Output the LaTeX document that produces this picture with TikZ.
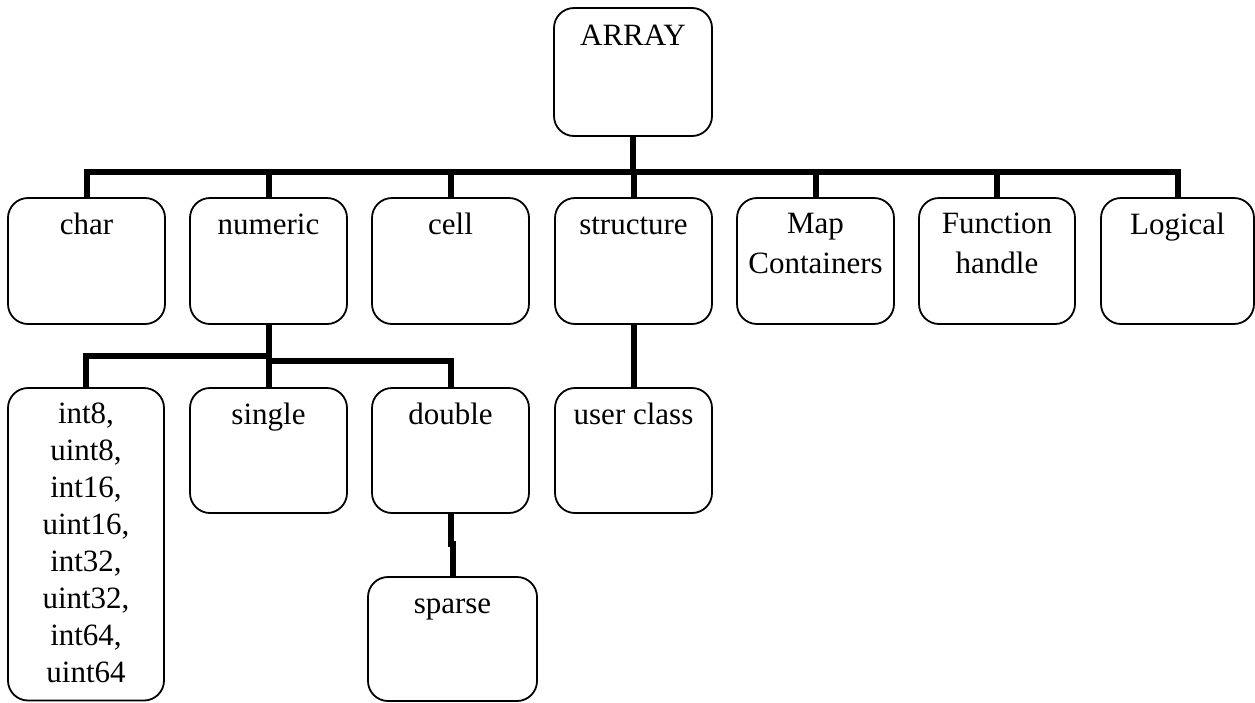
\documentclass[tikz,border=0pt]{standalone}
\usepackage{fontspec}
\setmainfont{Liberation Serif}
% A labelled rounded box given by its left, top, right and bottom edges;
% #6 is the drop from the top edge to the baseline of the label's last line.
\newcommand\dtypebox[7]{%
  \node[box, minimum width={(#4-#2)*1pt}, minimum height={(#5-#3)*1pt}]
    (#1) at ({(#2+#4)/2},{(#3+#5)/2}) {};
  \node[lbl] (#1-t) at ([yshift=-#6pt]#1.north) {#7};
}
\begin{document}
\begin{tikzpicture}[x=1pt,y=-1pt,
  box/.style={draw, line width=1.8pt, rounded corners=20pt, inner sep=0pt},
  lbl/.style={inner sep=0pt, anchor=base, align=center,
    font=\fontsize{31}{37}\selectfont},
  conn/.style={line width=6pt}]
\useasboundingbox (0,0) rectangle (1255,702);

% root
\dtypebox{array}{554}{8}{712}{136}{38}{ARRAY}

% first level
\dtypebox{char}{8}{198}{165}{324}{37}{char}
\dtypebox{numeric}{190}{198}{347}{324}{37}{numeric}
\dtypebox{cell}{372}{198}{529}{324}{37}{cell}
\dtypebox{structure}{555}{198}{712}{324}{37}{structure}
\dtypebox{map}{737}{198}{894}{324}{76}{Map\\[3pt]Containers}
\dtypebox{func}{919}{198}{1075}{324}{76}{Function\\[3pt]handle}
\dtypebox{logical}{1101}{198}{1254}{324}{37}{Logical}

% second level
\dtypebox{int}{8}{388}{164}{700.5}{295}{int8,\\uint8,\\int16,\\uint16,\\int32,\\uint32,\\int64,\\uint64}
\dtypebox{single}{190}{388}{347}{513}{37}{single}
\dtypebox{double}{372}{388}{529}{513}{37}{double}
\dtypebox{userclass}{555}{388}{712}{513}{37}{user class}

% third level
\dtypebox{sparse}{368}{577}{537}{701}{37}{sparse}

% connectors
\coordinate (hub) at (633,172);
\draw[conn] (array.south) -- (hub);
\foreach \c in {char,numeric,cell,structure,map,func,logical}
  \draw[conn] (hub) -| (\c.north);

\coordinate (hubL) at (268.5,356);
\coordinate (hubR) at (268.5,361);
\draw[conn] (numeric.south) -- (hubR) -- (single.north);
\draw[conn] (hubL) -| (int.north);
\draw[conn] (hubR) -| (double.north);
\draw[conn] (structure.south) -- (userclass.north);
\draw[conn] (double.south) -- ++(0,30) -| (sparse.north);
\end{tikzpicture}
\end{document}
